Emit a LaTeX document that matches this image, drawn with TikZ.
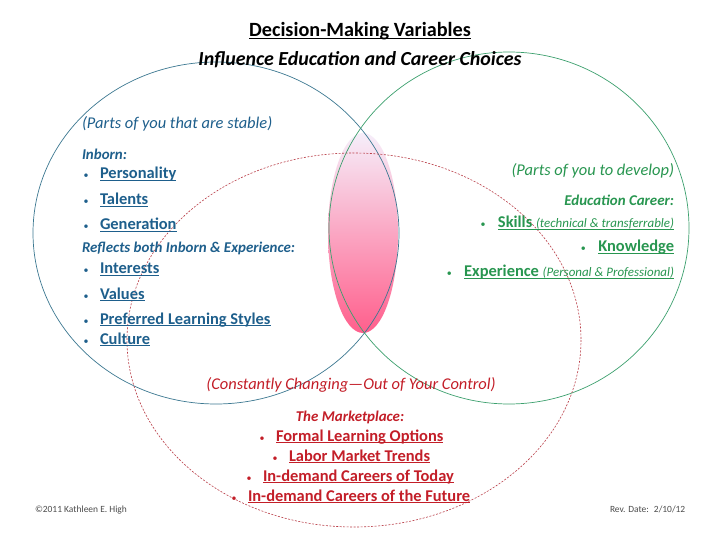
\documentclass[tikz,border=0pt]{standalone}
\usepackage{fontspec}
\setmainfont{Carlito}
\definecolor{bluetxt}{RGB}{30,95,140}
\definecolor{greentxt}{RGB}{40,150,80}
\definecolor{redtxt}{RGB}{195,30,40}
\definecolor{bluecirc}{RGB}{60,120,145}
\definecolor{greencirc}{RGB}{60,160,110}
\definecolor{redcirc}{RGB}{185,60,70}
\definecolor{pinktop}{RGB}{246,238,250}
\definecolor{pinkbot}{RGB}{255,95,140}
\newcommand\myul[1]{\underline{\smash{#1}}}
\tikzset{
  lbl/.style={inner sep=0pt, outer sep=0pt},
  item/.style={lbl, anchor=base west, font=\bfseries\fontsize{16.5}{19}\selectfont},
  itemr/.style={lbl, anchor=base east, font=\bfseries\fontsize{16.5}{19}\selectfont},
  bul/.style={lbl, anchor=base, font=\fontsize{10}{12}\selectfont},
  head/.style={lbl, font=\bfseries\itshape\fontsize{15}{18}\selectfont},
  paren/.style={lbl, font=\itshape\fontsize{16.5}{19}\selectfont},
  foot/.style={lbl, anchor=base west, font=\fontsize{9.5}{11}\selectfont, black!70},
}
\begin{document}
\begin{tikzpicture}[x=1bp,y=-1bp]
\useasboundingbox[fill=white] (0,0) rectangle (720,540);
% pink lens
\shade[top color=pinktop, bottom color=pinkbot] (363,233) ellipse [x radius=35, y radius=100];
% circles
\draw[bluecirc, line width=0.7pt] (216,233) ellipse [x radius=183, y radius=171];
\draw[greencirc, line width=0.7pt] (509,228) ellipse [x radius=180, y radius=176];
\draw[redcirc, line width=0.6pt, dash pattern=on 2pt off 1.5pt] (354,340) ellipse [x radius=227, y radius=187];
% titles
\node[lbl, anchor=base, font=\bfseries\fontsize{20.3}{23}\selectfont] (title) at (360,37) {\myul{Decision-Making Variables}};
\node[lbl, anchor=base, font=\bfseries\itshape\fontsize{20}{23}\selectfont] (sub) at (360,66) {Influence Education and Career Choices};
% left
\begin{scope}[bluetxt]
\node[paren, anchor=base west] (stable) at (82,129) {(Parts of you that are stable)};
\node[head, anchor=base west] (inborn) at (82,160) {Inborn:};
\node[item] (personality) at (100,179) {\myul{Personality}};
\node[item] (talents) at (100,205) {\myul{Talents}};
\node[item] (generation) at (100,230) {\myul{Generation}};
\node[head, anchor=base west] (reflects) at (82,253) {Reflects both Inborn \& Experience:};
\node[item] (interests) at (100,274) {\myul{Interests}};
\node[item] (values) at (100,299) {\myul{Values}};
\node[item] (styles) at (100,324) {\myul{Preferred Learning Styles}};
\node[item] (culture) at (100,344) {\myul{Culture}};
\foreach \n in {personality,talents,generation,interests,values,styles,culture}
  \node[bul] at ([xshift=-14]\n.base west) {•};
\end{scope}
% right
\begin{scope}[greentxt]
\node[paren, anchor=base east] (develop) at (674,176) {(Parts of you to develop)};
\node[head, anchor=base east] (edu) at (674,206) {Education Career:};
\node[itemr] (skills) at (674,228) {\myul{Skills {\mdseries\itshape\fontsize{13}{15}\selectfont (technical \& transferrable)}}};
\node[itemr] (knowledge) at (674,252) {\myul{Knowledge}};
\node[itemr] (experience) at (674,277) {\myul{Experience {\mdseries\itshape\fontsize{13}{15}\selectfont (Personal \& Professional)}}};
\foreach \n in {skills,knowledge,experience}
  \node[bul] at ([xshift=-15]\n.base west) {•};
\end{scope}
% bottom
\begin{scope}[redtxt]
\node[paren, anchor=base] (changing) at (351,389) {(Constantly Changing—Out of Your Control)};
\node[head, anchor=base] (market) at (350,421) {The Marketplace:};
\node[item] (formal) at (276,441) {\myul{Formal Learning Options}};
\node[item] (labor) at (289,461) {\myul{Labor Market Trends}};
\node[item] (today) at (263,481) {\myul{In-demand Careers of Today}};
\node[item] (future) at (248,501) {\myul{In-demand Careers of the Future}};
\foreach \n in {formal,labor,today,future}
  \node[bul] at ([xshift=-14]\n.base west) {•};
\end{scope}
% footer
\node[foot] (copy) at (35,512) {©2011 Kathleen E. High};
\node[foot] (rev) at (610,512) {Rev. Date: \ 2/10/12};
\end{tikzpicture}
\end{document}
